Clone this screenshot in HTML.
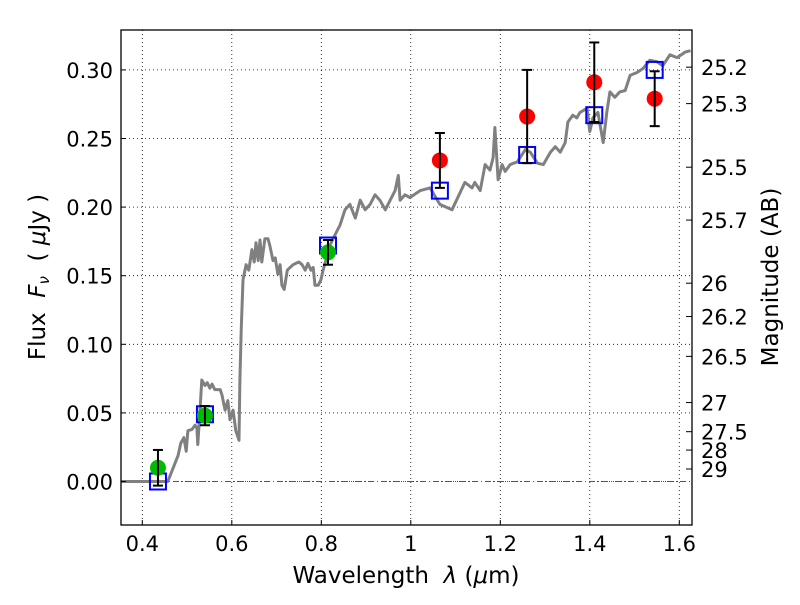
<!DOCTYPE html>
<html><head><meta charset="utf-8"><style>
body{margin:0;background:#fff;}
svg text{font-family:"DejaVu Sans","Liberation Sans",sans-serif;font-size:21px;fill:#000;}
svg text.title{font-size:23px;white-space:pre;}
</style></head><body>
<svg id="chart" width="800" height="600" xmlns="http://www.w3.org/2000/svg">
<rect width="800" height="600" fill="#fff"/>
<g id="grid"></g>
<g id="plot"></g>
<rect x="121" y="30" width="571" height="495" fill="none" stroke="#000" stroke-width="1.3"/>
<g id="axes"></g>
<text class="title" x="406" y="583" text-anchor="middle">Wavelength  <tspan font-style="italic">λ</tspan> (<tspan font-style="italic">μ</tspan>m)</text>
<text class="title" transform="translate(45,277) rotate(-90)" text-anchor="middle">Flux  <tspan font-style="italic">F</tspan><tspan font-style="italic" font-size="15" dy="4">ν</tspan><tspan dy="-4">  ( </tspan><tspan font-style="italic">μ</tspan>Jy )</text>
<text class="title" transform="translate(778,277) rotate(-90)" text-anchor="middle">Magnitude (AB)</text>
</svg>
<script>
const xTicks=[0.4,0.6,0.8,1,1.2,1.4,1.6];
const yTicks=[0,0.05,0.10,0.15,0.20,0.25,0.30];
const yTickLabels=["0.00","0.05","0.10","0.15","0.20","0.25","0.30"];
const magTicks=[25.2,25.3,25.5,25.7,26,26.2,26.5,27,27.5,28,29];
const magLabels=["25.2","25.3","25.5","25.7","26","26.2","26.5","27","27.5","28","29"];
const curveW=[0.352,0.457,0.480,0.486,0.493,0.498,0.502,0.511,0.518,0.522,0.524,0.529,0.533,0.540,0.545,0.551,0.556,0.562,0.574,0.578,0.585,0.591,0.596,0.603,0.609,0.616,0.618,0.621,0.625,0.632,0.638,0.645,0.650,0.654,0.659,0.663,0.667,0.674,0.681,0.685,0.692,0.697,0.703,0.708,0.712,0.717,0.724,0.730,0.737,0.743,0.750,0.757,0.764,0.770,0.777,0.782,0.786,0.793,0.799,0.804,0.810,0.819,0.831,0.842,0.853,0.864,0.876,0.887,0.898,0.909,0.920,0.931,0.943,0.954,0.965,0.972,0.976,0.987,0.998,1.021,1.043,1.065,1.092,1.121,1.137,1.143,1.155,1.166,1.177,1.184,1.188,1.195,1.204,1.211,1.222,1.238,1.256,1.267,1.283,1.296,1.312,1.323,1.334,1.345,1.351,1.362,1.371,1.378,1.394,1.400,1.407,1.418,1.430,1.438,1.445,1.456,1.467,1.479,1.490,1.505,1.519,1.534,1.550,1.563,1.579,1.595,1.613,1.625];
const curveF=[0,0,0.019,0.028,0.032,0.022,0.037,0.038,0.041,0.039,0.027,0.052,0.074,0.070,0.072,0.068,0.071,0.067,0.067,0.063,0.052,0.059,0.045,0.052,0.037,0.030,0.074,0.110,0.147,0.158,0.154,0.169,0.160,0.174,0.161,0.176,0.160,0.177,0.177,0.172,0.161,0.163,0.151,0.158,0.143,0.140,0.154,0.156,0.158,0.159,0.160,0.158,0.154,0.159,0.154,0.156,0.143,0.143,0.147,0.154,0.161,0.172,0.180,0.187,0.198,0.202,0.192,0.205,0.198,0.202,0.209,0.205,0.198,0.205,0.212,0.223,0.205,0.209,0.207,0.212,0.214,0.202,0.198,0.218,0.214,0.218,0.212,0.231,0.227,0.236,0.258,0.220,0.231,0.226,0.231,0.233,0.242,0.240,0.232,0.231,0.240,0.244,0.240,0.247,0.262,0.267,0.265,0.269,0.272,0.255,0.265,0.269,0.247,0.269,0.284,0.280,0.284,0.285,0.296,0.298,0.301,0.307,0.306,0.303,0.311,0.309,0.313,0.314];
const greenW=[0.435,0.54,0.815];
const greenF=[0.010,0.048,0.167];
const greenErr=[0.013,0.007,0.009];
const redW=[1.065,1.26,1.41,1.545];
const redF=[0.234,0.266,0.291,0.279];
const redErr=[0.020,0.034,0.029,0.020];
const modelW=[0.435,0.54,0.815,1.065,1.26,1.41,1.545];
const modelF=[0.0,0.049,0.172,0.212,0.238,0.267,0.300];

const X=w=>142.3+(w-0.4)*447.5;
const Y=v=>481.5-v*1372;
const NS="http://www.w3.org/2000/svg";
function mk(tag,parent,attrs){const e=document.createElementNS(NS,tag);for(const k in attrs)e.setAttribute(k,attrs[k]);parent.appendChild(e);return e;}
const grid=document.getElementById('grid'),plot=document.getElementById('plot'),axes=document.getElementById('axes');
xTicks.forEach(t=>{
 const l=mk('line',grid,{x1:X(t),x2:X(t),y1:30,y2:525,stroke:'#000','stroke-width':0.8,'stroke-dasharray':'1,3'});
 
 
 const tk=mk('line',axes,{x1:X(t),x2:X(t),y1:525,y2:520,stroke:'#000'});
 
 
 const tx=mk('text',axes,{x:X(t),y:551,'text-anchor':'middle'});tx.textContent=String(t);
 
 
});
yTicks.forEach((t,i)=>{
 const l=mk('line',grid,{x1:121,x2:692,y1:Y(t),y2:Y(t),stroke:'#000','stroke-width':0.8,'stroke-dasharray':'1,3'});
 
 
 const tk=mk('line',axes,{x1:121,x2:126,y1:Y(t),y2:Y(t),stroke:'#000'});
 
 
 const tx=mk('text',axes,{x:113,y:Y(t)+8,'text-anchor':'end'});tx.textContent=yTickLabels[i];
 
 
});
const zl=mk('line',grid,{x1:121,x2:692,y1:Y(0),y2:Y(0),stroke:'#555','stroke-width':1,'stroke-dasharray':'6,3,1,3'});


magTicks.forEach((m,i)=>{
 const f=Math.pow(10,(23.9-m)/2.5);
 const tk=mk('line',axes,{x1:686,x2:692,y1:Y(f),y2:Y(f),stroke:'#000'});
 
 
 const tx=mk('text',axes,{x:701,y:Y(f)+8});tx.textContent=magLabels[i];
 
 
});
const pts=curveW.map((w,i)=>X(w).toFixed(1)+','+Y(curveF[i]).toFixed(1)).join(' ');
const cv=mk('polyline',plot,{points:pts,fill:'none',stroke:'#808080','stroke-width':3,'stroke-linejoin':'round'});


modelW.forEach((w,i)=>{
 const r=mk('rect',plot,{x:X(w)-8,y:Y(modelF[i])-8,width:16,height:16,fill:'none',stroke:'#0000ff','stroke-width':2});
 
 
});
function drawPts(W,F,E,col,nm){
 W.forEach((w,i)=>{
  const c=mk('circle',plot,{cx:X(w),cy:Y(F[i]),r:8,fill:col});
  
  
  const g=mk('g',plot,{stroke:'#000','stroke-width':2});
  
  
  const x=X(w),y1=Y(F[i]+E[i]),y2=Y(F[i]-E[i]);
  mk('line',g,{x1:x,x2:x,y1:y1,y2:y2});
  mk('line',g,{x1:x-5,x2:x+5,y1:y1,y2:y1});
  mk('line',g,{x1:x-5,x2:x+5,y1:y2,y2:y2});
 });
}
drawPts(greenW,greenF,greenErr,'#00bb00','green-photometry-point');
drawPts(redW,redF,redErr,'#ff0000','red-photometry-point');
</script>
</body></html>
